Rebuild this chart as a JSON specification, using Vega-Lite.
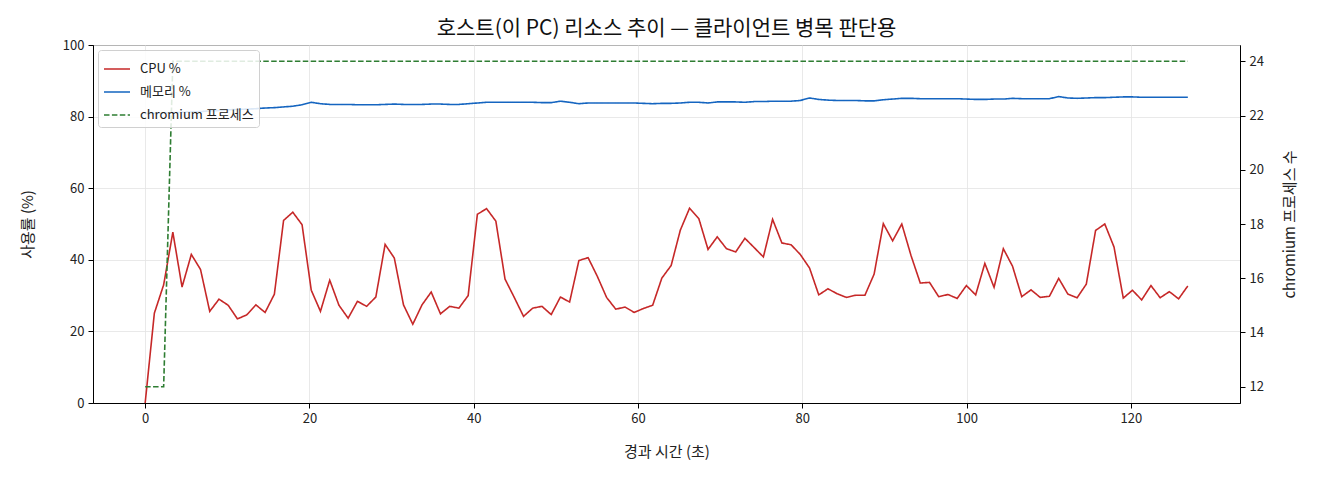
{
  "$schema": "https://vega.github.io/schema/vega-lite/v6.json",
  "description": "Host resource trend: CPU, memory and chromium process count",
  "autosize": {"type": "none"},
  "padding": {"left": 93, "top": 45, "right": 80, "bottom": 77},
  "width": 1147,
  "height": 358,
  "title": {
    "text": "호스트(이 PC) 리소스 추이 — 클라이언트 병목 판단용",
    "fontSize": 21,
    "fontWeight": "normal",
    "color": "#111111",
    "offset": 0
  },
  "config": {
    "font": "Noto Sans CJK KR",
    "view": {"stroke": "black", "strokeWidth": 1},
    "axis": {
      "labelFontSize": 13,
      "labelColor": "#222222",
      "titleFontSize": 15,
      "titleFontWeight": "normal",
      "titleColor": "#222222",
      "domainColor": "black",
      "tickColor": "black",
      "tickSize": 5,
      "gridColor": "#e3e3e3",
      "gridWidth": 0.8
    },
    "legend": {
      "orient": "top-left",
      "offset": 5,
      "fillColor": "rgba(255,255,255,0.85)",
      "strokeColor": "#d0d0d0",
      "cornerRadius": 3,
      "padding": 5,
      "symbolType": "stroke",
      "symbolStrokeWidth": 1.6,
      "symbolSize": 676,
      "labelFontSize": 13,
      "labelOffset": 9,
      "labelColor": "#222222"
    }
  },
  "data": {
    "values": [
      {"t": 0, "cpu": 0, "mem": 80.8, "proc": 12},
      {"t": 1.12, "cpu": 25.1, "mem": 80.9, "proc": 12},
      {"t": 2.25, "cpu": 33, "mem": 81.0, "proc": 12},
      {"t": 3.37, "cpu": 47.7, "mem": 81.1, "proc": 24},
      {"t": 4.49, "cpu": 32.4, "mem": 81.2, "proc": 24},
      {"t": 5.62, "cpu": 41.5, "mem": 81.3, "proc": 24},
      {"t": 6.74, "cpu": 37.3, "mem": 81.4, "proc": 24},
      {"t": 7.86, "cpu": 25.6, "mem": 81.6, "proc": 24},
      {"t": 8.99, "cpu": 29, "mem": 81.7, "proc": 24},
      {"t": 10.11, "cpu": 27.3, "mem": 81.9, "proc": 24},
      {"t": 11.23, "cpu": 23.5, "mem": 82.0, "proc": 24},
      {"t": 12.36, "cpu": 24.6, "mem": 82.1, "proc": 24},
      {"t": 13.48, "cpu": 27.4, "mem": 82.2, "proc": 24},
      {"t": 14.6, "cpu": 25.3, "mem": 82.4, "proc": 24},
      {"t": 15.73, "cpu": 30.4, "mem": 82.5, "proc": 24},
      {"t": 16.85, "cpu": 51, "mem": 82.7, "proc": 24},
      {"t": 17.97, "cpu": 53.3, "mem": 82.9, "proc": 24},
      {"t": 19.1, "cpu": 49.8, "mem": 83.3, "proc": 24},
      {"t": 20.22, "cpu": 31.5, "mem": 84.0, "proc": 24},
      {"t": 21.34, "cpu": 25.6, "mem": 83.6, "proc": 24},
      {"t": 22.47, "cpu": 34.3, "mem": 83.4, "proc": 24},
      {"t": 23.59, "cpu": 27.3, "mem": 83.4, "proc": 24},
      {"t": 24.71, "cpu": 23.7, "mem": 83.4, "proc": 24},
      {"t": 25.84, "cpu": 28.4, "mem": 83.3, "proc": 24},
      {"t": 26.96, "cpu": 27, "mem": 83.3, "proc": 24},
      {"t": 28.08, "cpu": 29.6, "mem": 83.3, "proc": 24},
      {"t": 29.21, "cpu": 44.3, "mem": 83.4, "proc": 24},
      {"t": 30.33, "cpu": 40.5, "mem": 83.5, "proc": 24},
      {"t": 31.45, "cpu": 27.4, "mem": 83.4, "proc": 24},
      {"t": 32.58, "cpu": 22, "mem": 83.4, "proc": 24},
      {"t": 33.7, "cpu": 27.4, "mem": 83.4, "proc": 24},
      {"t": 34.82, "cpu": 31, "mem": 83.5, "proc": 24},
      {"t": 35.95, "cpu": 24.9, "mem": 83.5, "proc": 24},
      {"t": 37.07, "cpu": 27, "mem": 83.4, "proc": 24},
      {"t": 38.19, "cpu": 26.5, "mem": 83.4, "proc": 24},
      {"t": 39.32, "cpu": 30, "mem": 83.6, "proc": 24},
      {"t": 40.44, "cpu": 52.7, "mem": 83.8, "proc": 24},
      {"t": 41.56, "cpu": 54.3, "mem": 84.0, "proc": 24},
      {"t": 42.69, "cpu": 50.8, "mem": 84.0, "proc": 24},
      {"t": 43.81, "cpu": 34.6, "mem": 84.0, "proc": 24},
      {"t": 44.93, "cpu": 29.5, "mem": 84.0, "proc": 24},
      {"t": 46.06, "cpu": 24.2, "mem": 84.0, "proc": 24},
      {"t": 47.18, "cpu": 26.5, "mem": 84.0, "proc": 24},
      {"t": 48.3, "cpu": 27, "mem": 83.9, "proc": 24},
      {"t": 49.43, "cpu": 24.7, "mem": 83.9, "proc": 24},
      {"t": 50.55, "cpu": 29.6, "mem": 84.3, "proc": 24},
      {"t": 51.67, "cpu": 28.2, "mem": 84.0, "proc": 24},
      {"t": 52.8, "cpu": 39.8, "mem": 83.6, "proc": 24},
      {"t": 53.92, "cpu": 40.6, "mem": 83.8, "proc": 24},
      {"t": 55.04, "cpu": 35.4, "mem": 83.8, "proc": 24},
      {"t": 56.17, "cpu": 29.5, "mem": 83.8, "proc": 24},
      {"t": 57.29, "cpu": 26.2, "mem": 83.8, "proc": 24},
      {"t": 58.41, "cpu": 26.8, "mem": 83.8, "proc": 24},
      {"t": 59.53, "cpu": 25.3, "mem": 83.8, "proc": 24},
      {"t": 60.66, "cpu": 26.4, "mem": 83.7, "proc": 24},
      {"t": 61.78, "cpu": 27.3, "mem": 83.6, "proc": 24},
      {"t": 62.9, "cpu": 34.9, "mem": 83.7, "proc": 24},
      {"t": 64.03, "cpu": 38.4, "mem": 83.7, "proc": 24},
      {"t": 65.15, "cpu": 48.3, "mem": 83.8, "proc": 24},
      {"t": 66.27, "cpu": 54.4, "mem": 84.0, "proc": 24},
      {"t": 67.4, "cpu": 51.5, "mem": 84.0, "proc": 24},
      {"t": 68.52, "cpu": 42.9, "mem": 83.8, "proc": 24},
      {"t": 69.64, "cpu": 46.4, "mem": 84.1, "proc": 24},
      {"t": 70.77, "cpu": 43.1, "mem": 84.1, "proc": 24},
      {"t": 71.89, "cpu": 42.2, "mem": 84.1, "proc": 24},
      {"t": 73.01, "cpu": 46, "mem": 84.0, "proc": 24},
      {"t": 74.14, "cpu": 43.4, "mem": 84.2, "proc": 24},
      {"t": 75.26, "cpu": 40.8, "mem": 84.2, "proc": 24},
      {"t": 76.38, "cpu": 51.3, "mem": 84.3, "proc": 24},
      {"t": 77.51, "cpu": 44.7, "mem": 84.3, "proc": 24},
      {"t": 78.63, "cpu": 44.2, "mem": 84.3, "proc": 24},
      {"t": 79.75, "cpu": 41.5, "mem": 84.5, "proc": 24},
      {"t": 80.88, "cpu": 37.7, "mem": 85.2, "proc": 24},
      {"t": 82.0, "cpu": 30.2, "mem": 84.8, "proc": 24},
      {"t": 83.12, "cpu": 31.9, "mem": 84.6, "proc": 24},
      {"t": 84.25, "cpu": 30.5, "mem": 84.5, "proc": 24},
      {"t": 85.37, "cpu": 29.5, "mem": 84.5, "proc": 24},
      {"t": 86.49, "cpu": 30.1, "mem": 84.5, "proc": 24},
      {"t": 87.62, "cpu": 30.1, "mem": 84.4, "proc": 24},
      {"t": 88.74, "cpu": 36, "mem": 84.4, "proc": 24},
      {"t": 89.86, "cpu": 50.1, "mem": 84.7, "proc": 24},
      {"t": 90.99, "cpu": 45.3, "mem": 84.9, "proc": 24},
      {"t": 92.11, "cpu": 50, "mem": 85.1, "proc": 24},
      {"t": 93.23, "cpu": 41.2, "mem": 85.1, "proc": 24},
      {"t": 94.36, "cpu": 33.5, "mem": 85.0, "proc": 24},
      {"t": 95.48, "cpu": 33.7, "mem": 85.0, "proc": 24},
      {"t": 96.6, "cpu": 29.7, "mem": 85.0, "proc": 24},
      {"t": 97.73, "cpu": 30.3, "mem": 85.0, "proc": 24},
      {"t": 98.85, "cpu": 29.2, "mem": 85.0, "proc": 24},
      {"t": 99.97, "cpu": 32.8, "mem": 84.9, "proc": 24},
      {"t": 101.1, "cpu": 30.2, "mem": 84.8, "proc": 24},
      {"t": 102.22, "cpu": 39, "mem": 84.8, "proc": 24},
      {"t": 103.34, "cpu": 32.3, "mem": 84.9, "proc": 24},
      {"t": 104.47, "cpu": 43.1, "mem": 84.9, "proc": 24},
      {"t": 105.59, "cpu": 38.2, "mem": 85.1, "proc": 24},
      {"t": 106.71, "cpu": 29.7, "mem": 85.0, "proc": 24},
      {"t": 107.84, "cpu": 31.6, "mem": 85.0, "proc": 24},
      {"t": 108.96, "cpu": 29.5, "mem": 85.0, "proc": 24},
      {"t": 110.08, "cpu": 29.8, "mem": 85.0, "proc": 24},
      {"t": 111.21, "cpu": 34.8, "mem": 85.6, "proc": 24},
      {"t": 112.33, "cpu": 30.4, "mem": 85.2, "proc": 24},
      {"t": 113.45, "cpu": 29.4, "mem": 85.1, "proc": 24},
      {"t": 114.57, "cpu": 33.2, "mem": 85.2, "proc": 24},
      {"t": 115.7, "cpu": 48.2, "mem": 85.3, "proc": 24},
      {"t": 116.82, "cpu": 50, "mem": 85.3, "proc": 24},
      {"t": 117.94, "cpu": 43.6, "mem": 85.4, "proc": 24},
      {"t": 119.07, "cpu": 29.3, "mem": 85.5, "proc": 24},
      {"t": 120.19, "cpu": 31.5, "mem": 85.5, "proc": 24},
      {"t": 121.31, "cpu": 28.8, "mem": 85.4, "proc": 24},
      {"t": 122.44, "cpu": 32.8, "mem": 85.4, "proc": 24},
      {"t": 123.56, "cpu": 29.4, "mem": 85.4, "proc": 24},
      {"t": 124.68, "cpu": 31.1, "mem": 85.4, "proc": 24},
      {"t": 125.81, "cpu": 29.1, "mem": 85.4, "proc": 24},
      {"t": 126.93, "cpu": 32.7, "mem": 85.4, "proc": 24}
    ]
  },
  "transform": [
    {"fold": ["cpu", "mem", "proc"], "as": ["key", "v"]}
  ],
  "encoding": {
    "x": {
      "field": "t",
      "type": "quantitative",
      "scale": {"domain": [-6.35, 133.28], "nice": false, "zero": false},
      "axis": {
        "title": "경과 시간 (초)",
        "values": [0, 20, 40, 60, 80, 100, 120],
        "grid": true,
        "labelPadding": 4,
        "titlePadding": 19
      }
    },
    "color": {
      "field": "key",
      "type": "nominal",
      "scale": {
        "domain": ["cpu", "mem", "proc"],
        "range": ["#c62828", "#1565c0", "#2e7d32"]
      },
      "legend": {
        "title": null,
        "labelExpr": "datum.label == 'cpu' ? 'CPU %' : datum.label == 'mem' ? '메모리 %' : 'chromium 프로세스'"
      }
    },
    "strokeDash": {
      "field": "key",
      "type": "nominal",
      "scale": {
        "domain": ["cpu", "mem", "proc"],
        "range": [[1, 0], [1, 0], [5.5, 2.4]]
      },
      "legend": {
        "title": null,
        "labelExpr": "datum.label == 'cpu' ? 'CPU %' : datum.label == 'mem' ? '메모리 %' : 'chromium 프로세스'"
      }
    }
  },
  "layer": [
    {
      "transform": [{"filter": "datum.key != 'proc'"}],
      "mark": {"type": "line", "strokeWidth": 1.6},
      "encoding": {
        "y": {
          "field": "v",
          "type": "quantitative",
          "scale": {"domain": [0, 100], "nice": false},
          "axis": {
            "title": "사용률 (%)",
            "values": [0, 20, 40, 60, 80, 100],
            "grid": true,
            "labelPadding": 4,
            "titlePadding": 27
          }
        }
      }
    },
    {
      "transform": [{"filter": "datum.key == 'proc'"}],
      "mark": {"type": "line", "strokeWidth": 1.6},
      "encoding": {
        "y": {
          "field": "v",
          "type": "quantitative",
          "scale": {"domain": [11.4, 24.6], "nice": false, "zero": false},
          "axis": {
            "orient": "right",
            "title": "chromium 프로세스 수",
            "titleAngle": -90,
            "values": [12, 14, 16, 18, 20, 22, 24],
            "grid": false,
            "labelPadding": 4,
            "titlePadding": 34
          }
        }
      }
    }
  ],
  "resolve": {"scale": {"y": "independent"}, "axis": {"y": "independent"}}
}
